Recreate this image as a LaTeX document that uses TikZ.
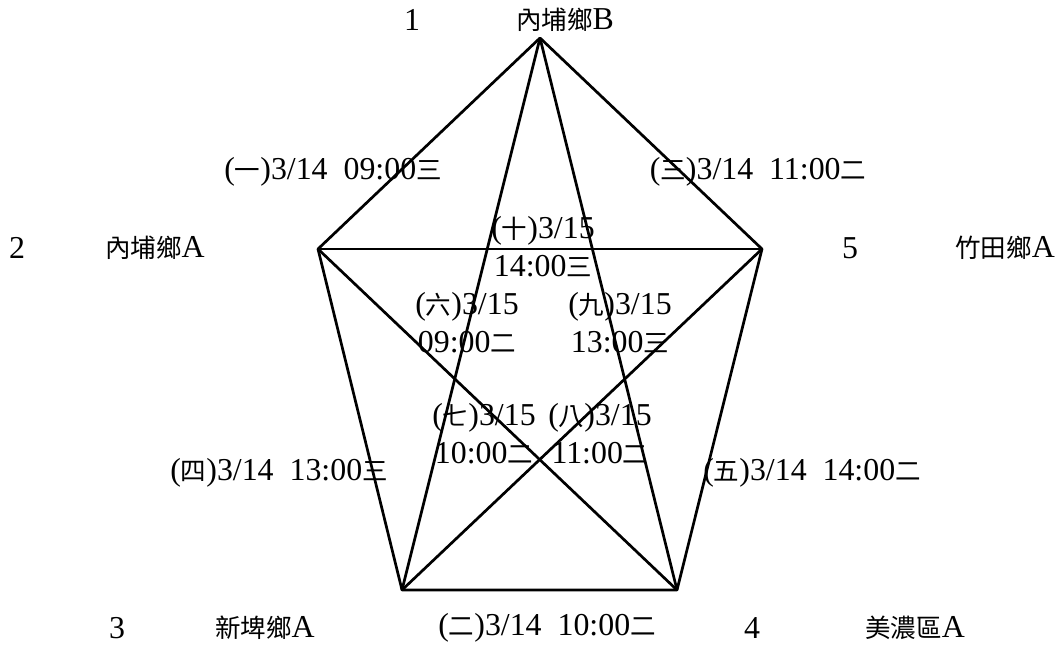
\documentclass[tikz,border=0pt]{standalone}
\usepackage{fontspec}
\setmainfont{Liberation Serif}
\newfontfamily\cjk[Scale=0.8]{Noto Sans CJK TC}
\newcommand{\zh}[1]{{\cjk #1}}
\usepackage{tikz}

\begin{document}
\begin{tikzpicture}[line join=bevel,
  every node/.style={inner sep=0pt, font=\fontsize{32}{38}\selectfont},
  edge/.style={black, line width=2.7bp},
  twoline/.style={align=center}]
\useasboundingbox (0bp,0bp) rectangle (1060bp,645bp);
%%
\coordinate (v1) at (540bp,607bp);
\coordinate (v2) at (318bp,396bp);
\coordinate (v3) at (402bp,55bp);
\coordinate (v4) at (677bp,55bp);
\coordinate (v5) at (762bp,396bp);

\node (n1) at (412bp,625bp) {1};
\node (town1) at (565bp,625bp) {\zh{內埔鄉}B};
\node (n2) at (17bp,397bp) {2};
\node (town2) at (155bp,397bp) {\zh{內埔鄉}A};
\node (n5) at (850bp,397bp) {5};
\node (town5) at (1005bp,397bp) {\zh{竹田鄉}A};
\node (n3) at (117bp,17bp) {3};
\node (town3) at (265bp,17bp) {\zh{新埤鄉}A};
\node (n4) at (752bp,17bp) {4};
\node (town4) at (915bp,17bp) {\zh{美濃區}A};

%% pentagon
\draw [edge] (v1) -- (v2) -- (v3) -- (v4) -- (v5) -- cycle;
%% star
\draw [edge] (v1) -- (v3);
\draw [edge] (v1) -- (v4);
\draw [edge] (v2) -- (v5);
\draw [edge] (v2) -- (v4);
\draw [edge] (v5) -- (v3);

%% match labels
\node (g1) at (333bp,473bp) {(\zh{一})3/14\enspace 09:00\zh{三}};
\node (g3) at (758bp,473bp) {(\zh{三})3/14\enspace 11:00\zh{二}};
\node (g4) at (279bp,172bp) {(\zh{四})3/14\enspace 13:00\zh{三}};
\node (g5) at (812bp,172bp) {(\zh{五})3/14\enspace 14:00\zh{二}};
\node (g2) at (547bp,17bp) {(\zh{二})3/14\enspace 10:00\zh{二}};
\node (g10) at (543bp,398bp) [twoline] {(\zh{十})3/15\\14:00\zh{三}};
\node (g6) at (467bp,322bp) [twoline] {(\zh{六})3/15\\09:00\zh{二}};
\node (g9) at (620bp,322bp) [twoline] {(\zh{九})3/15\\13:00\zh{三}};
\node (g7) at (484bp,211bp) [twoline] {(\zh{七})3/15\\10:00\zh{二}};
\node (g8) at (600bp,211bp) [twoline] {(\zh{八})3/15\\11:00\zh{二}};
\end{tikzpicture}
\end{document}
